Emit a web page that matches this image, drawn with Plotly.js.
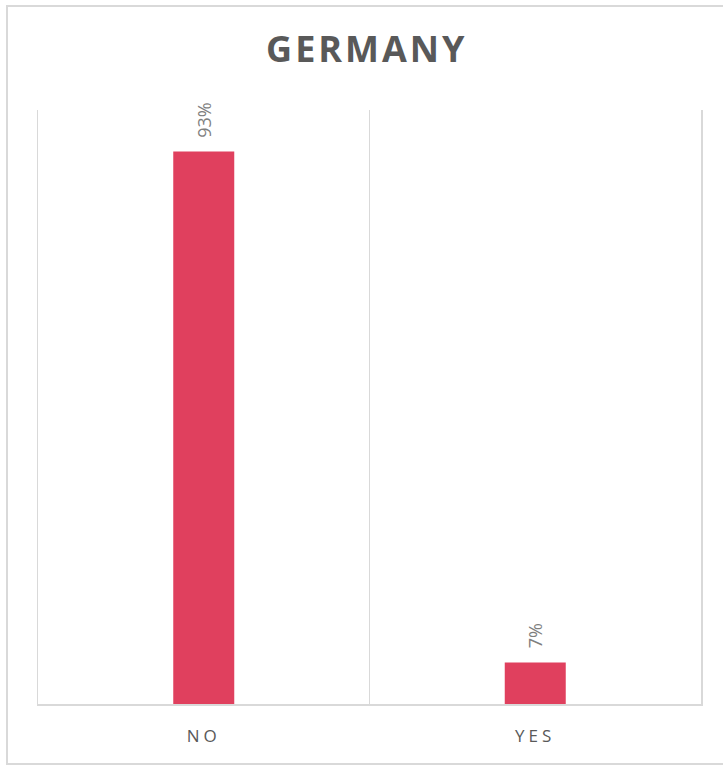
<!DOCTYPE html>
<html>
<head>
<meta charset="utf-8">
<script src="https://cdn.plot.ly/plotly-3.0.1.min.js"></script>
<style>
  html, body { margin: 0; padding: 0; background: #ffffff; }
  #wrap { position: relative; width: 723px; height: 765px; overflow: hidden; }
  #frame { position: absolute; left: 6px; top: 5px; width: 740px; height: 756px; border: 2px solid #d9d9d9; box-sizing: content-box; pointer-events: none; z-index: 2; }
  #chart { position: absolute; left: 0; top: 0; width: 723px; height: 765px; }
  .gtitle { letter-spacing: 3px; }
  .xtick text { letter-spacing: 4px; }
</style>
</head>
<body>
<div id="wrap">
  <div id="chart"></div>
  <div id="frame"></div>
</div>
<script>
const categories = ["NO", "YES"];
const values = [0.93, 0.07];
const valueLabels = ["93%", "7%"];
const chartTitle = "GERMANY";

const barColor = "#E0405E";
const textGray = "#595959";
const labelGray = "#7f7f7f";
const lineGray = "#d9d9d9";

const trace = {
  type: "bar",
  x: categories,
  y: values,
  marker: { color: barColor },
  hoverinfo: "none"
};

const annotations = categories.map((c, i) => ({
  x: c,
  y: values[i],
  xref: "x",
  yref: "y",
  text: valueLabels[i],
  showarrow: false,
  textangle: -90,
  xanchor: "center",
  yanchor: "bottom",
  yshift: 12,
  font: { family: "Open Sans, sans-serif", size: 18, color: labelGray }
}));

const layout = {
  width: 723,
  height: 765,
  margin: { l: 38, r: 22, t: 110, b: 61 },
  paper_bgcolor: "#ffffff",
  plot_bgcolor: "#ffffff",
  showlegend: false,
  bargap: 0.816,
  title: {
    text: "<b>" + chartTitle + "</b>",
    x: 0.496,
    xanchor: "center",
    xref: "paper",
    yref: "container",
    y: (765 - 49) / 765,
    yanchor: "middle",
    font: { family: "Open Sans, sans-serif", size: 36, color: textGray }
  },
  xaxis: {
    type: "category",
    range: [-0.5, 1.5],
    tickson: "boundaries",
    showgrid: true,
    gridcolor: lineGray,
    gridwidth: 1.5,
    showline: true,
    linecolor: lineGray,
    linewidth: 1.5,
    ticks: "",
    ticklabelstandoff: 16,
    tickfont: { family: "Open Sans, sans-serif", size: 17, color: textGray },
    fixedrange: true,
    zeroline: false
  },
  yaxis: {
    range: [0, 1],
    showgrid: false,
    showticklabels: false,
    zeroline: false,
    showline: true,
    mirror: true,
    linecolor: lineGray,
    linewidth: 1.5,
    ticks: "",
    fixedrange: true
  },
  annotations: annotations
};

Plotly.newPlot("chart", [trace], layout, { displayModeBar: false, staticPlot: true });
</script>
</body>
</html>
